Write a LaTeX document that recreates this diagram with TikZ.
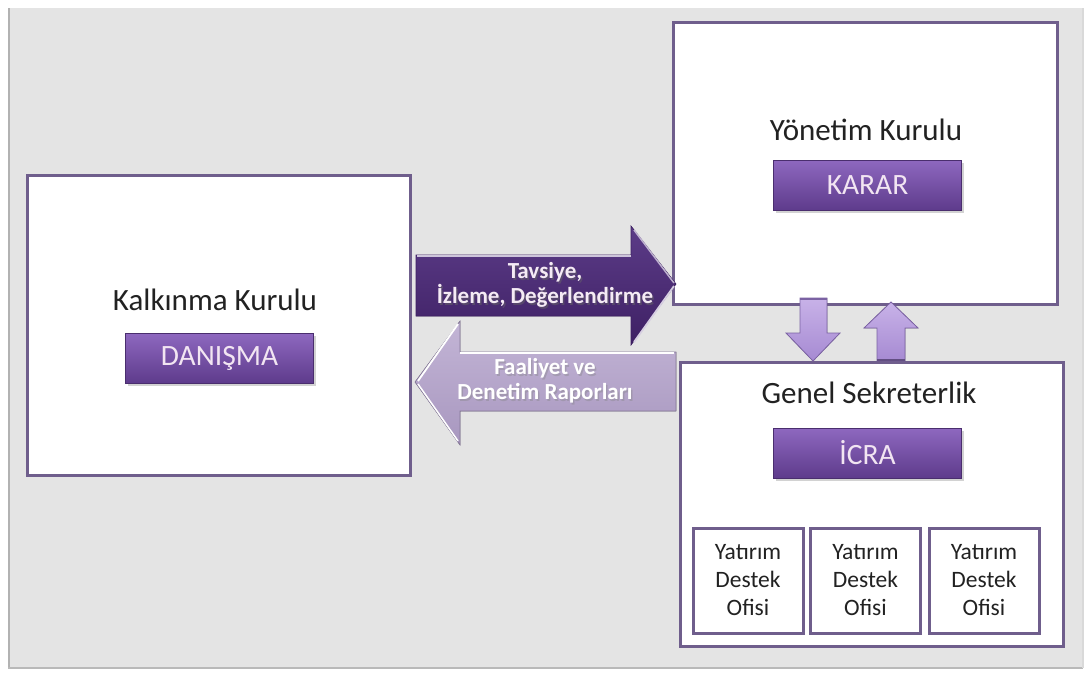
\documentclass[tikz,border=0pt]{standalone}
\usepackage{fontspec}
\setmainfont{Carlito}
\usetikzlibrary{shadows}
\definecolor{bg}{HTML}{E4E4E4}
\definecolor{boxline}{HTML}{6F5E8C}
\definecolor{btntop}{HTML}{8E68BF}
\definecolor{btnbot}{HTML}{5E3B8C}
\definecolor{btnline}{HTML}{4A2E6E}
\definecolor{darktop}{HTML}{5C3C88}
\definecolor{darkbot}{HTML}{3E2064}
\definecolor{lighttop}{HTML}{C3B5D6}
\definecolor{lightbot}{HTML}{A897BF}
\definecolor{smalltop}{HTML}{C8B2E8}
\definecolor{smallbot}{HTML}{A68AD2}
\definecolor{smallline}{HTML}{7B62A3}
\definecolor{titletext}{HTML}{222222}
\begin{document}
\begin{tikzpicture}[x=1pt,y=-1pt,
  panel/.style={draw=boxline, line width=3pt, fill=white, inner sep=0pt},
  button/.style={draw=btnline, line width=0.8pt, top color=btntop, bottom color=btnbot,
    text=white!90!violet, font=\fontsize{29.5}{32}\selectfont, minimum width=188pt, minimum height=50pt,
    inner sep=0pt, drop shadow={shadow xshift=2pt, shadow yshift=-3pt, opacity=0.35}},
  title/.style={font=\fontsize{31}{34}\selectfont, text=titletext},
  office/.style={draw=boxline, line width=3pt, fill=white, minimum width=110pt,
    minimum height=105pt, align=center, font=\fontsize{23.5}{28}\selectfont,
    text=titletext, inner sep=0pt},
  arrowtext/.style={font=\bfseries\fontsize{23}{25}\selectfont, align=center, text=white},
  smallarrow/.style={draw=smallline, line width=0.8pt, top color=smalltop, bottom color=smallbot}
]
% background
\useasboundingbox (0,0) rectangle (1091,675);
\fill[white] (0,0) rectangle (1091,675);
\fill[bg] (8,8) rectangle (1083,668);
\draw[gray!60, line width=2pt] (9,8) -- (9,668);
\draw[gray!55, line width=2pt] (8,668) -- (1083,668);
\draw[gray!30, line width=1.5pt] (1083,8) -- (1083,668);

% panels
\node[panel, minimum width=383pt, minimum height=300pt] (kk) at (218.5,325) {};
\node[panel, minimum width=384pt, minimum height=282pt] (yk) at (865,163) {};
\node[panel, minimum width=383pt, minimum height=284pt] (gs) at (871.5,504) {};

% titles
\node[title] (kkt) at (215,300) {Kalkınma Kurulu};
\node[title] (ykt) at (866,130) {Yönetim Kurulu};
\node[title] (gst) at (869,393) {Genel Sekreterlik};

% buttons
\node[button] (danisma) at (219.5,358) {DANIŞMA};
\node[button] (karar) at (867.5,185) {KARAR};
\node[button] (icra) at (867.5,453) {İCRA};

% offices
\node[office] (o1) at (748,580.5) {Yatırım\\Destek\\Ofisi};
\node[office] (o2) at (865.5,580.5) {Yatırım\\Destek\\Ofisi};
\node[office] (o3) at (984,580.5) {Yatırım\\Destek\\Ofisi};

% big right arrow (dark)
\filldraw[draw=darkbot, line width=0.6pt, top color=darktop, bottom color=darkbot]
  (416,255) -- (631,255) -- (631,226) -- (676,284) -- (631,345) -- (631,316) -- (416,316) -- cycle;
\draw[white!70!darktop, line width=1.2pt] (417,256) -- (631,256);
\draw[white!60!darktop, line width=1.5pt] (634,230) -- (674,283);
\draw[white!75!darktop, line width=1.8pt] (674,286) -- (634,342);
\node[arrowtext, text=black!60, opacity=0.5] at (546.5,287) {Tavsiye,\\İzleme, Değerlendirme};
\node[arrowtext, text=white!92!violet] (rat) at (545,285) {Tavsiye,\\İzleme, Değerlendirme};

% big left arrow (light)
\filldraw[draw=lightbot!80!black, line width=0.6pt, top color=lighttop, bottom color=lightbot]
  (676,352) -- (460,352) -- (460,321) -- (415,382) -- (460,445) -- (460,411) -- (676,411) -- cycle;
\draw[white, line width=1.8pt] (458,324) -- (418,381);
\draw[white, line width=1.5pt] (418,384) -- (458,441);
\draw[white, line width=1.2pt] (460,353) -- (674,353);
\node[arrowtext, text=black!50, opacity=0.35] at (546.5,383) {Faaliyet ve\\Denetim Raporları};
\node[arrowtext] (lat) at (545,381) {Faaliyet ve\\Denetim Raporları};

% small down arrow
\filldraw[smallarrow]
  (800,298) -- (827,298) -- (827,333) -- (840,333) -- (813,361) -- (786,333) -- (800,333) -- cycle;
\draw[smallline, line width=2pt] (800,299) -- (827,299);
% small up arrow
\filldraw[smallarrow]
  (877,361) -- (905,361) -- (905,328) -- (918,328) -- (891,302) -- (864,328) -- (877,328) -- cycle;
\draw[smallline!80!black, line width=2pt] (877,360) -- (905,360);
\end{tikzpicture}
\end{document}
